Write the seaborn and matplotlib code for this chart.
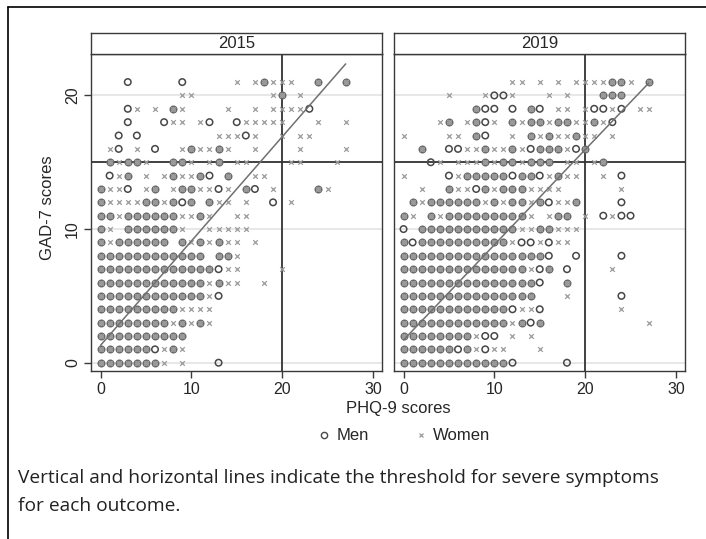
import numpy as np
import pandas as pd
import matplotlib
matplotlib.use('Agg')
from matplotlib import pyplot as plt
from matplotlib.lines import Line2D
import seaborn as sns

'''PHQ-9 vs GAD-7 scatter by survey year, men as hollow circles, women as crosses.'''

years = ['2015', '2019']

# one entry per GAD-7 score: PHQ-9 scores present in that row
# o = men only, x = women only, b = both (circle with a cross on top)
rows_2015 = {
    21: '3o 9o 15x 17x 18b 19x 20x 21x 24b 27b',
    20: '9x 10x 19x 20b 22x',
    19: '3o 4x 6x 8b 9x 14x 17x 19x 20x 21x 22x 23o',
    18: '3o 7o 8x 9x 11x 12o 15o 16x 17x 18x 19x 20x 24x 27x',
    17: '2o 4o 13x 14x 15x 16o 17x 20x 22x 23x',
    16: '1x 2o 4x 6o 9x 10b 11x 12x 13b 14x 17x 22x 27x',
    15: '1b 2x 3b 4b 5x 8b 9b 10x 12x 13b 15x 16x 21x 22x 26x',
    14: '1o 2x 3b 5x 7x 8b 9x 10x 11b 12o 14b 17x 18x',
    13: '0b 1x 2x 3o 5x 6b 8x 9b 10b 11x 12x 13o 14x 16b 17o 19x 24b 25x',
    12: '0b 1x 2x 3x 4x 5b 6b 7x 8b 9o 10b 12b 13x 14x 16x 19o 21x',
    11: '0-1b 2x 3-8b 9x 10x 11b 12x 15x 16x',
    10: '0b 1x 3-8b 9x 12x 13x 14x 15x 16x',
    9: '0b 1x 2-7b 9b 10x 11b 12x 13b 14x 15x 17x',
    8: '0-11b 13b 14b 15x',
    7: '0-12b 13o 14x 15x 20x',
    6: '0-11b 12x 13b 14x 15x 18x',
    5: '0-11b 12x 13o',
    4: '0-8b 9x 10x 11x 12x',
    3: '0-7b 8x 9b 10x 11b 12x',
    2: '0-9b',
    1: '0-5b 6o 7x 8b 9x',
    0: '0-6b 7x 9x 13o',
}

rows_2019 = {
    21: '12x 13x 15x 17x 19x 20x 21x 22x 23b 24b 25x 27b',
    20: '5x 9x 10o 11o 12x 16x 18x 22b 23b 24b',
    19: '8b 9o 10o 12o 14b 15o 17x 18x 20x 21o 22o 23x 24o 26x 27x',
    18: '4x 5b 7x 8b 9o 10x 12b 13x 14b 15b 16x 17b 18b 19x 20x 21b 22x 23o',
    17: '0x 5x 6x 8b 9o 12x 14b 15x 16b 17x 18x 19b 20x 21x 23x',
    16: '2b 5o 6o 7x 8x 9b 10x 11x 12b 13x 14o 15b 16b 17b 18x 19o 20b',
    15: '3o 4x 6x 7x 8x 9b 10x 11b 12b 13x 14b 15b 16b 18x 19x 21x 22b',
    14: '0x 5o 6x 7-11b 12o 13b 14b 15o 16x 17b 18x 19x 22x 24o',
    13: '2x 5b 6x 7x 8o 9b 10x 11b 12b 13b 14x 15x 16x 17x 24x',
    12: '1b 2x 3-8b 9x 10b 11x 12b 13b 14x 15b 16o 17x 18x 19b 24o',
    11: '0b 1x 3b 4x 5-13b 14x 16x 17b 18b 20x 22o 23x 24o 25o',
    10: '0o 2-12b 13x 14x 15b 16b 17x 18x 19x',
    9: '0b 1o 2-11b 12x 13o 14o 15x 16o 17x 18x',
    8: '0-15b 16o 19o 24o',
    7: '0-13b 14x 15o 16b 18o 23x',
    6: '0-14b 15o 18b',
    5: '0-14b 18x 24o',
    4: '0-11b 12o 13x 14x 15o 24x',
    3: '0-11b 12x 13b 14o 15b 27x',
    2: '0-7b 8x 9o 10o 12x 14x',
    1: '0-5b 6o 7b 8x 9o 10x 11x 15x',
    0: '0-11b 12o 18o',
}

# fitted lines
fit_intercept = {'2015': 1.3, '2019': 1.7}
fit_slope = {'2015': 0.78, '2019': 0.712}

phq_cut = 20
gad_cut = 15

def expand(rows, year):
    recs = []
    for gad, cells in rows.items():
        for tok in cells.split():
            code = tok[-1]
            span = tok[:-1].split('-')
            for phq in range(int(span[0]), int(span[-1]) + 1):
                if code in 'ob':
                    recs.append((year, phq, gad, 'Men', code == 'b'))
                if code in 'xb':
                    recs.append((year, phq, gad, 'Women', code == 'b'))
    return recs

df = pd.DataFrame(expand(rows_2015, '2015') + expand(rows_2019, '2019'),
                  columns=['year', 'phq', 'gad', 'sex', 'both'])

sns.set_theme(style='white')
plt.rcParams['font.family'] = ['Liberation Sans', 'DejaVu Sans']

W, H = 706, 539
fig = plt.figure(figsize=(W / 100, H / 100), dpi=100)

frame_col = '#3a3a3a'
men_col = '#474747'
women_col = '#9a9a9a'
panel_lefts = [91, 394]
panel_w = 291

for yr, left in zip(years, panel_lefts):
    ax = fig.add_axes([left / W, 1 - 371 / H, panel_w / W, (371 - 54) / H])
    sub = df[df.year == yr]
    men = sub[sub.sex == 'Men']
    women = sub[sub.sex == 'Women']

    for gy in [0, 10, 20]:
        ax.axhline(gy, color='#e3e3e3', lw=1.2, zorder=0)
    ax.axvline(phq_cut, color='#333333', lw=1.3, zorder=1)
    ax.axhline(gad_cut, color='#333333', lw=1.3, zorder=1)

    # men alone: hollow circle; men sharing the cell with women: circle filled by the cross
    sns.scatterplot(data=men[~men.both], x='phq', y='gad', ax=ax, marker='o', s=22,
                    facecolor='none', edgecolor=men_col, linewidth=1.1, zorder=3)
    sns.scatterplot(data=men[men.both], x='phq', y='gad', ax=ax, marker='o', s=22,
                    facecolor='#9c9c9c', edgecolor='#6b6b6b', linewidth=1.1, zorder=3)
    sns.scatterplot(data=women, x='phq', y='gad', ax=ax, marker='x', s=11,
                    color=women_col, linewidth=0.9, zorder=4)

    xs = np.array([sub.phq.min(), sub.phq.max()])
    ax.plot(xs, fit_intercept[yr] + fit_slope[yr] * xs, color='#707070', lw=1.1, zorder=5)

    ax.set_xlim(-1.05, 31.0)
    ax.set_ylim(-0.62, 23.1)
    ax.set_xticks([0, 10, 20, 30])
    ax.set_yticks([0, 10, 20])
    ax.set_xlabel('')
    ax.set_ylabel('')
    ax.tick_params(axis='both', direction='out', length=5, width=1, color=frame_col,
                   labelsize=11.5, bottom=True, left=True, pad=3)
    ax.tick_params(axis='y', labelrotation=90)
    for lab in ax.get_yticklabels():
        lab.set_va('center')
    if left != panel_lefts[0]:
        ax.tick_params(axis='y', left=False, labelleft=False)
    for sp in ax.spines.values():
        sp.set_color(frame_col)
        sp.set_linewidth(1.0)

    strip = fig.add_axes([left / W, 1 - 54 / H, panel_w / W, 21.5 / H])
    strip.set_xticks([])
    strip.set_yticks([])
    for sp in strip.spines.values():
        sp.set_color(frame_col)
        sp.set_linewidth(1.0)
    strip.text(0.5, 0.47, yr, ha='center', va='center', fontsize=12, transform=strip.transAxes)

fig.text(48 / W, 1 - 208 / H, 'GAD-7 scores', rotation=90, ha='center', va='center', fontsize=12)
fig.text(398 / W, 1 - 409 / H, 'PHQ-9 scores', ha='center', va='center', fontsize=12)

handles = [
    Line2D([], [], marker='o', ls='none', mfc='none', mec=men_col, ms=4.5, mew=1.0),
    Line2D([], [], marker='x', ls='none', color=women_col, ms=3.5, mew=0.9),
]
fig.legend(handles, ['Men', 'Women'], loc='center', bbox_to_anchor=(403 / W, 1 - 436 / H),
           ncol=2, frameon=False, fontsize=12, columnspacing=2.6, handlelength=1.0,
           handletextpad=0.25)

cap_kw = dict(ha='left', va='center', fontsize=13.8, family=['Open Sans', 'DejaVu Sans'], color='#222222')
fig.text(18 / W, 1 - 478 / H, 'Vertical and horizontal lines indicate the threshold for severe symptoms', **cap_kw)
fig.text(18 / W, 1 - 506 / H, 'for each outcome.', **cap_kw)

# page border of the original figure box
fig.add_artist(Line2D([8 / W, 8 / W], [0, 1 - 7 / H], color='black', lw=1.2))
fig.add_artist(Line2D([8 / W, 1], [1 - 7 / H, 1 - 7 / H], color='black', lw=1.2))

fig.savefig('out.png', dpi=100)
